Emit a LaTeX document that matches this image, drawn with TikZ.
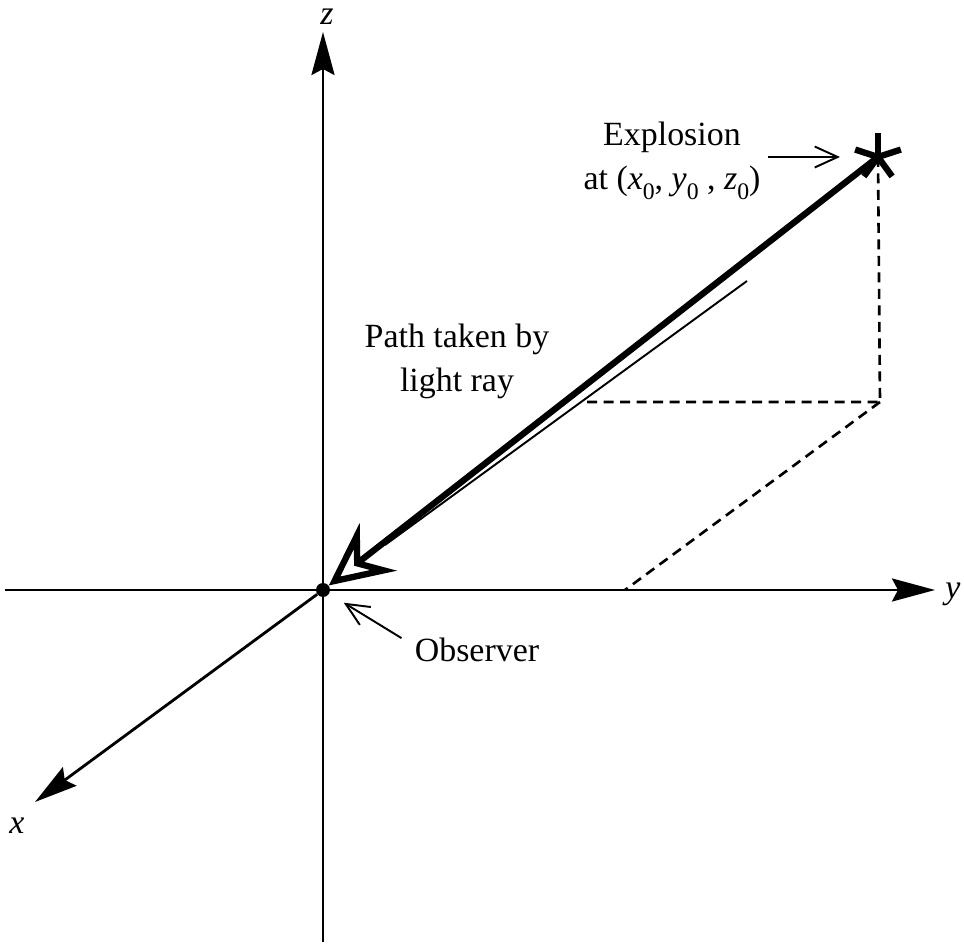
\documentclass[tikz,border=0pt]{standalone}
\usepackage{fontspec}
\setmainfont{Liberation Serif}
\usetikzlibrary{arrows.meta}

\newcommand*{\ymin}{-318}
\newcommand*{\ymax}{612}
\newcommand*{\zmin}{-352}
\newcommand*{\zmax}{558}
\newcommand*{\ptsub}[2]{\textit{#1}\raisebox{-0.28em}{\fontsize{13.5pt}{15pt}\selectfont #2}}

\begin{document}
\begin{tikzpicture}[x=0.02cm,y=0.02cm,font=\fontsize{19.3pt}{25pt}\selectfont,
	axis/.style={line width=1.6pt,-{Stealth[length=0.86cm,width=0.46cm,inset=0.12cm]}},
	pointer/.style={line width=1.1pt,-{Straight Barb[length=0.46cm,width=0.42cm]}},
	proj/.style={line width=1.5pt,dash pattern=on 0.2cm off 0.13cm},
	ray/.style={line width=3.6pt,-{Stealth[open,length=1.25cm,width=1.2cm,inset=0.45cm]}},
	lab/.style={inner sep=0pt}]

	\useasboundingbox (-323,-356) rectangle (641,590);

	% axes
	\coordinate (zbot) at (0,\zmin);
	\coordinate (ztop) at (0,\zmax);
	\coordinate (yleft) at (\ymin,0);
	\coordinate (yright) at (\ymax,0);
	\coordinate (xend) at (-288,-212);
	\node[circle,fill,inner sep=0pt,minimum size=0.28cm] (obs) at (0,0) {};
	\draw[axis] (zbot) -- (ztop);
	\draw[axis] (yleft) -- (yright);
	\draw[axis] (obs) -- (xend);

	\node[lab] (zlab) at (4,573) {\textit{z}};
	\node[lab] (ylab) at (630,-4) {\textit{y}};
	\node[lab] (xlab) at (-306,-236) {\textit{x}};

	% projection of the explosion
	\coordinate (blast) at (555,433);
	\coordinate (foot) at (557,188);
	\coordinate (yfoot) at (302,0);
	\coordinate (raycut) at (259,188);
	\draw[proj] (blast) -- (foot) -- (raycut);
	\draw[proj] (foot) -- (yfoot);

	% explosion
	\foreach \a in {90,162,18,234,306}
		\draw[line width=3.6pt] (blast) -- ++(\a:24);

	% light ray
	\draw[ray] (blast) -- (obs);
	\coordinate (thinA) at (424,309);
	\coordinate (thinB) at (62,45);
	\draw[line width=1.1pt] (thinA) -- (thinB);

	\node[lab,align=center] (blastlab) at (349,429) {Explosion\\at (\ptsub{x}{0}, \ptsub{y}{0} , \ptsub{z}{0})};
	\draw[pointer,shorten <=0.14cm] (blastlab.east |- blast) -- ([xshift=-0.76cm]blast);

	\node[lab,align=center] (pathlab) at (134,229) {Path taken by\\light ray};

	\node[lab,anchor=base] (obslab) at (154,-72) {Observer};
	\draw[pointer,shorten >=0.34cm] ([xshift=-0.26cm]obslab.north west) -- (obs);

\end{tikzpicture}
\end{document}
